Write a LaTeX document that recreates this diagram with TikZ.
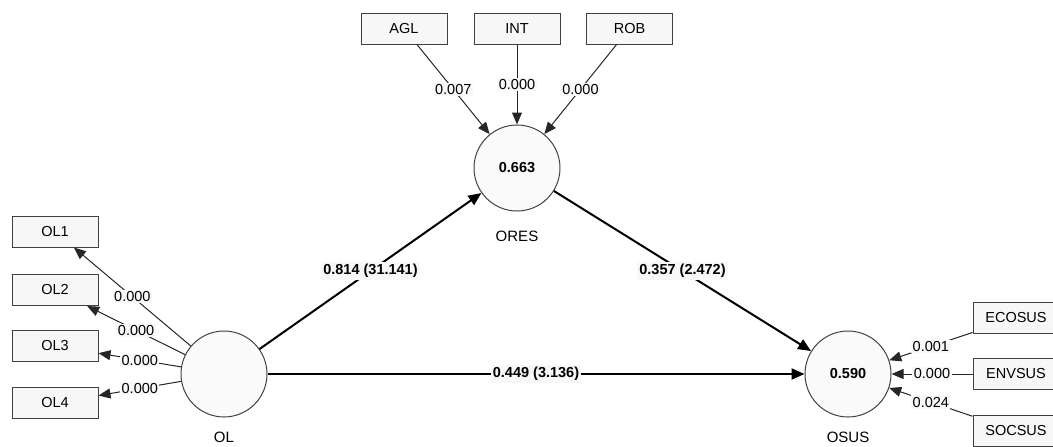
\documentclass[tikz,border=0pt]{standalone}
\usepackage{fontspec}
\setmainfont{Liberation Sans}
\usetikzlibrary{arrows.meta}
\definecolor{boxfill}{HTML}{F7F7F7}
\definecolor{circfill}{HTML}{FAFAFA}
\definecolor{edgegray}{HTML}{404040}
\definecolor{lblfill}{HTML}{F8F8F8}
\begin{document}
\begin{tikzpicture}[x=1pt,y=-1pt,
  ind/.style={draw=edgegray, fill=boxfill, line width=1pt, minimum width=86pt, minimum height=31pt, inner sep=0pt, font=\fontsize{14.5}{16}\selectfont},
  lat/.style={circle, draw=edgegray, fill=circfill, line width=1pt, minimum size=86pt, inner sep=0pt, font=\bfseries\fontsize{14.5}{16}\selectfont},
  loadarrow/.style={-{Triangle[length=12pt,width=10pt]}, line width=1pt, draw=black!85},
  patharrow/.style={-{Triangle[length=13pt,width=11pt]}, line width=2pt, draw=black},
  lbl/.style={fill=lblfill, inner sep=1.5pt, font=\fontsize{14.5}{16}\selectfont},
  blbl/.style={fill=lblfill, inner sep=2pt, font=\bfseries\fontsize{14.5}{16}\selectfont},
  lvname/.style={anchor=base, inner sep=0pt, font=\fontsize{15}{17}\selectfont}
]
\useasboundingbox (0,0) rectangle (1053,447);
\clip (0,0) rectangle (1053,447);
% latent variables
\node[lat] (OL) at (224,374) {};
\node[lat] (ORES) at (517,168) {0.663};
\node[lat] (OSUS) at (848,374) {0.590};
\node[lvname] (OLn) at (224,442) {OL};
\node[lvname] (ORESn) at (517,241.5) {ORES};
\node[lvname] (OSUSn) at (848,442) {OSUS};
% indicators
\node[ind] (AGL) at (404,28.5) {AGL};
\node[ind] (INT) at (517,28.5) {INT};
\node[ind] (ROB) at (629.5,28.5) {ROB};
\node[ind] (OL1) at (55,231.5) {OL1};
\node[ind] (OL2) at (55,290) {OL2};
\node[ind] (OL3) at (55,346) {OL3};
\node[ind] (OL4) at (55,403) {OL4};
\node[ind] (ECOSUS) at (1016,318) {ECOSUS};
\node[ind] (ENVSUS) at (1016,374) {ENVSUS};
\node[ind] (SOCSUS) at (1016,431) {SOCSUS};
% measurement arrows
\draw[loadarrow] (AGL) -- node[lbl]{0.007} (ORES);
\draw[loadarrow] (INT) -- node[lbl]{0.000} (ORES);
\draw[loadarrow] (ROB) -- node[lbl]{0.000} (ORES);
\draw[loadarrow] (OL) -- node[lbl]{0.000} (OL1);
\draw[loadarrow] (OL) -- node[lbl]{0.000} (OL2);
\draw[loadarrow] (OL) -- node[lbl]{0.000} (OL3);
\draw[loadarrow] (OL) -- node[lbl]{0.000} (OL4);
\draw[loadarrow] (ECOSUS) -- node[lbl]{0.001} (OSUS);
\draw[loadarrow] (ENVSUS) -- node[lbl]{0.000} (OSUS);
\draw[loadarrow] (SOCSUS) -- node[lbl]{0.024} (OSUS);
% structural paths
\draw[patharrow] (OL) -- node[blbl]{0.814 (31.141)} (ORES);
\draw[patharrow] (ORES) -- node[blbl]{0.357 (2.472)} (OSUS);
\draw[patharrow] (OL) -- node[blbl]{0.449 (3.136)} (OSUS);
\end{tikzpicture}
\end{document}
